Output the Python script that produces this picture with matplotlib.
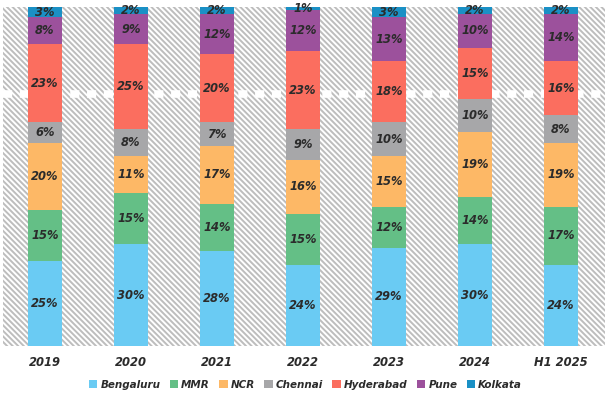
import matplotlib
matplotlib.use("Agg")
import matplotlib.pyplot as plt
from matplotlib.patches import Rectangle, Patch
import numpy as np

years = ["2019", "2020", "2021", "2022", "2023", "2024", "H1 2025"]
cities = ["Bengaluru", "MMR", "NCR", "Chennai", "Hyderabad", "Pune", "Kolkata"]
bengaluru = [25, 30, 28, 24, 29, 30, 24]
mmr = [15, 15, 14, 15, 12, 14, 17]
ncr = [20, 11, 17, 16, 15, 19, 19]
chennai = [6, 8, 7, 9, 10, 10, 8]
hyderabad = [23, 25, 20, 23, 18, 15, 16]
pune = [8, 9, 12, 12, 13, 10, 14]
kolkata = [3, 2, 2, 1, 3, 2, 2]
series = [bengaluru, mmr, ncr, chennai, hyderabad, pune, kolkata]
colors = ["#6ACBF3", "#64BF86", "#FDB866", "#A7A7A9", "#FB6E5F", "#9C519C", "#1A90C5"]

plt.rcParams["hatch.linewidth"] = 1.4
plt.rcParams["hatch.color"] = "#BDBDBD"

fig = plt.figure(figsize=(6.11, 3.98), dpi=100)
ax = fig.add_axes([3/611, 1-346/398, 602/611, 339/398])
ax.set_xlim(-0.488, 6.512)
ax.set_ylim(0, 100)

bg = Rectangle((0, 0), 1, 1, transform=ax.transAxes, facecolor="white",
               edgecolor="#BDBDBD", hatch="\\" * 6, linewidth=0, zorder=0)
ax.add_patch(bg)
ax.axhline(74.3, color="white", linewidth=5.5, dashes=(1.2, 1.0), zorder=1)

x = np.arange(len(years))
bottom = np.zeros(len(years))
for vals, c in zip(series, colors):
    vals = np.array(vals, dtype=float)
    ax.bar(x, vals, bottom=bottom, width=0.395, color=c, zorder=2, linewidth=0)
    for xi, b, v in zip(x, bottom, vals):
        ax.text(xi, b + v / 2, f"{int(v)}%", ha="center", va="center",
                fontsize=8.3, fontweight="bold", fontstyle="italic",
                color="#2B2B2B", zorder=3)
    bottom += vals

for s in ax.spines.values():
    s.set_visible(False)
ax.set_yticks([])
ax.set_xticks(x)
ax.set_xticklabels(years, fontsize=8.3, fontweight="bold", fontstyle="italic", color="#2B2B2B")
ax.tick_params(axis="x", length=0, pad=7)

handles = [Patch(facecolor=c, edgecolor="none", label=n) for c, n in zip(colors, cities)]
leg = fig.legend(handles=handles, loc="center", bbox_to_anchor=(0.5, 1-385/398), ncol=7,
                 frameon=False, handlelength=0.8, handleheight=0.8, handletextpad=0.3,
                 columnspacing=0.9, prop={"size": 7.5, "weight": "bold", "style": "italic"})
for t in leg.get_texts():
    t.set_color("#2B2B2B")

fig.savefig("out.png", dpi=100)
